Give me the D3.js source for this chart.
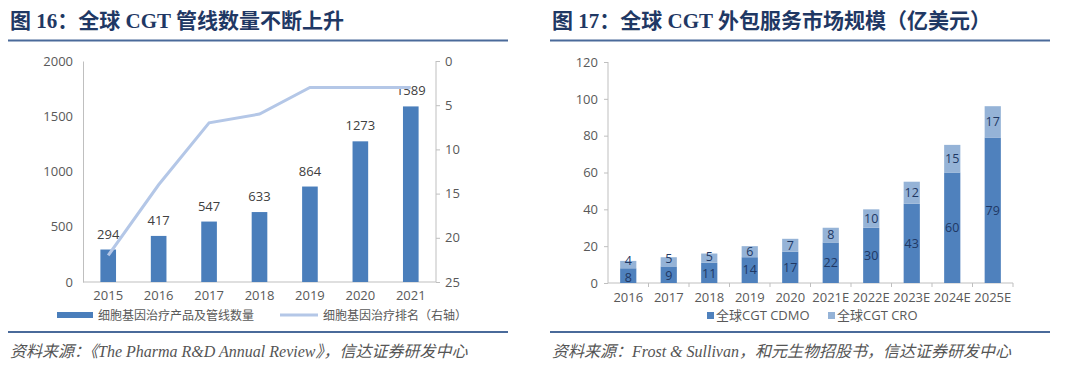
<!DOCTYPE html>
<html><head><meta charset="utf-8">
<script src="https://cdn.jsdelivr.net/npm/d3@7"></script>
<style>
body{margin:0;background:#fff;}
svg text{font-family:"Open Sans","Noto Sans CJK SC",sans-serif;}
</style></head>
<body><svg id="c" width="1080" height="383"></svg>
<script>
// ---- Data: chart 1 ----
const years1 = ["2015","2016","2017","2018","2019","2020","2021"];
const pipelineCount = [294,417,547,633,864,1273,1589];
const cgtRank = [22,14,7,6,3,3,3];
const leftTicks1 = [0,500,1000,1500,2000];
const rightTicks1 = [0,5,10,15,20,25];
// ---- Data: chart 2 ----
const years2 = ["2016","2017","2018","2019","2020","2021E","2022E","2023E","2024E","2025E"];
const cdmo = [8,9,11,14,17,22,30,43,60,79];
const cro = [4,5,5,6,7,8,10,12,15,17];
const ticks2 = [0,20,40,60,80,100,120];

const svg = d3.select("#c");
const navy = "#1f3864", axisCol = "#bfbfbf", txt = "#595959";
const titleFont = '"Liberation Serif","Noto Sans CJK SC",serif';
const fmt = d3.format("d");

function frame(x0, x1, title, source){
  svg.append("text").attr("x", x0+2).attr("y", 28).attr("fill", navy)
    .attr("font-size", 21).attr("font-weight", "bold")
    .style("font-family", titleFont).text(title);
  svg.append("line").attr("x1", x0).attr("x2", x1).attr("y1", 40.5).attr("y2", 40.5)
    .attr("stroke", "#4a6a9a").attr("stroke-width", 2);
  svg.append("line").attr("x1", x0).attr("x2", x1).attr("y1", 332).attr("y2", 332)
    .attr("stroke", "#4a6a9a").attr("stroke-width", 2);
  svg.append("text").attr("x", x0+2).attr("y", 357).attr("fill", "#555")
    .attr("font-size", 16).attr("font-style", "italic")
    .style("font-family", '"Liberation Serif","Noto Sans CJK SC",serif').text(source);
}

// ===== Chart 1 =====
frame(8, 508, "图 16：全球 CGT 管线数量不断上升", "资料来源：《The Pharma R&D Annual Review》，信达证券研发中心");
const x1 = d3.scaleBand().domain(years1).range([83, 436]).paddingInner(0.69).paddingOuter(0.345);
const y1 = d3.scaleLinear().domain([0, 2000]).range([282, 61]);
const y1r = d3.scaleLinear().domain([0, 25]).range([61, 282]);
const g1 = svg.append("g");
const la = g1.append("g").attr("transform", "translate(83,0)")
  .call(d3.axisLeft(y1).tickValues(leftTicks1).tickFormat(fmt).tickSize(0).tickPadding(10));
la.select(".domain").attr("stroke", axisCol);
la.selectAll("text").attr("fill", txt).attr("font-size", 13).style("font-family", '"Open Sans",sans-serif');
const ra = g1.append("g").attr("transform", "translate(436,0)")
  .call(d3.axisRight(y1r).tickValues(rightTicks1).tickFormat(fmt).tickSize(4).tickPadding(5));
ra.select(".domain").attr("stroke", axisCol).attr("d", "M0,61V282");
ra.selectAll("line").attr("stroke", axisCol);
ra.selectAll("text").attr("fill", txt).attr("font-size", 13).style("font-family", '"Open Sans",sans-serif');
const ba = g1.append("g").attr("transform", "translate(0,282)")
  .call(d3.axisBottom(x1).tickSize(0).tickPadding(9));
ba.select(".domain").attr("stroke", axisCol).attr("d", "M83,0H436");
ba.selectAll("text").attr("fill", txt).attr("font-size", 13).style("font-family", '"Open Sans",sans-serif');
g1.selectAll("rect.b").data(pipelineCount).join("rect")
  .attr("x", (d,i)=>x1(years1[i])).attr("width", x1.bandwidth())
  .attr("y", d=>y1(d)).attr("height", d=>282-y1(d)).attr("fill", "#4a7ebb");
g1.selectAll("text.v").data(pipelineCount).join("text")
  .attr("x", (d,i)=>x1(years1[i])+x1.bandwidth()/2).attr("y", d=>y1(d)-11)
  .attr("text-anchor", "middle").attr("fill", "#404040").attr("font-size", 13)
  .style("font-family", '"Open Sans",sans-serif').text(d=>d);
g1.append("path").datum(cgtRank)
  .attr("d", d3.line().x((d,i)=>x1(years1[i])+x1.bandwidth()/2).y(d=>y1r(d)))
  .attr("fill", "none").attr("stroke", "#b4c7e7").attr("stroke-width", 3);
g1.append("rect").attr("x", 57).attr("y", 312).attr("width", 36).attr("height", 6).attr("fill", "#4a7ebb");
g1.append("text").attr("x", 98).attr("y", 319.5).attr("fill", txt).attr("font-size", 12).text("细胞基因治疗产品及管线数量");
g1.append("line").attr("x1", 280).attr("x2", 318).attr("y1", 315).attr("y2", 315).attr("stroke", "#b4c7e7").attr("stroke-width", 3);
g1.append("text").attr("x", 323).attr("y", 319.5).attr("fill", txt).attr("font-size", 12).text("细胞基因治疗排名（右轴）");

// ===== Chart 2 =====
frame(550, 1050, "图 17：全球 CGT 外包服务市场规模（亿美元）", "资料来源：Frost & Sullivan，和元生物招股书，信达证券研发中心");
const x2 = d3.scaleBand().domain(years2).range([608, 1013]).paddingInner(0.6).paddingOuter(0.3);
const y2 = d3.scaleLinear().domain([0, 120]).range([283, 62]);
const g2 = svg.append("g");
const la2 = g2.append("g").attr("transform", "translate(608,0)")
  .call(d3.axisLeft(y2).tickValues(ticks2).tickFormat(fmt).tickSize(4).tickPadding(6));
la2.select(".domain").attr("stroke", axisCol).attr("d", "M0,62V283");
la2.selectAll("line").attr("stroke", axisCol);
la2.selectAll("text").attr("fill", txt).attr("font-size", 13).style("font-family", '"Open Sans",sans-serif');
const ba2 = g2.append("g").attr("transform", "translate(0,283)")
  .call(d3.axisBottom(x2).tickSize(0).tickPadding(10));
ba2.select(".domain").attr("stroke", axisCol).attr("d", "M608,0H1013");
ba2.selectAll("text").attr("fill", txt).attr("font-size", 13).style("font-family", '"Open Sans",sans-serif');
const step2 = x2.step();
g2.selectAll("line.sep").data(years2).join("line")
  .attr("x1", (d,i)=>608+step2*(i+1)).attr("x2", (d,i)=>608+step2*(i+1))
  .attr("y1", 283).attr("y2", 287).attr("stroke", axisCol);
const bw = x2.bandwidth();
g2.selectAll("rect.cdmo").data(cdmo).join("rect")
  .attr("x", (d,i)=>x2(years2[i])).attr("width", bw)
  .attr("y", d=>y2(d)).attr("height", d=>283-y2(d)).attr("fill", "#4f81bd");
g2.selectAll("rect.cro").data(cro).join("rect")
  .attr("x", (d,i)=>x2(years2[i])).attr("width", bw)
  .attr("y", (d,i)=>y2(cdmo[i]+d)).attr("height", (d,i)=>y2(cdmo[i])-y2(cdmo[i]+d)).attr("fill", "#95b3d7");
// label centres, pushed apart slightly where segments are too thin
const minGap = 16.8;
const cPos = cdmo.map((d,i)=>{
  let a = (y2(d)+283)/2, b = (y2(cdmo[i]+cro[i])+y2(d))/2;
  const gap = a - b;
  if (gap < minGap){ const s = minGap-gap; a += s*0.3; b -= s*0.7; }
  return [a,b];
});
g2.selectAll("text.lc").data(cdmo).join("text")
  .attr("x", (d,i)=>x2(years2[i])+bw/2).attr("y", (d,i)=>cPos[i][0]).attr("dy", "0.35em")
  .attr("text-anchor", "middle").attr("fill", navy).attr("font-size", 12.5)
  .style("font-family", '"Open Sans",sans-serif').text(d=>d);
g2.selectAll("text.lr").data(cro).join("text")
  .attr("x", (d,i)=>x2(years2[i])+bw/2).attr("y", (d,i)=>cPos[i][1]).attr("dy", "0.35em")
  .attr("text-anchor", "middle").attr("fill", navy).attr("font-size", 12.5)
  .style("font-family", '"Open Sans",sans-serif').text(d=>d);
g2.append("rect").attr("x", 707).attr("y", 312).attr("width", 7).attr("height", 7).attr("fill", "#4f81bd");
g2.append("text").attr("x", 716).attr("y", 320).attr("fill", txt).attr("font-size", 13).text("全球CGT CDMO");
g2.append("rect").attr("x", 828).attr("y", 312).attr("width", 7).attr("height", 7).attr("fill", "#95b3d7");
g2.append("text").attr("x", 837).attr("y", 320).attr("fill", txt).attr("font-size", 13).text("全球CGT CRO");
</script></body></html>
